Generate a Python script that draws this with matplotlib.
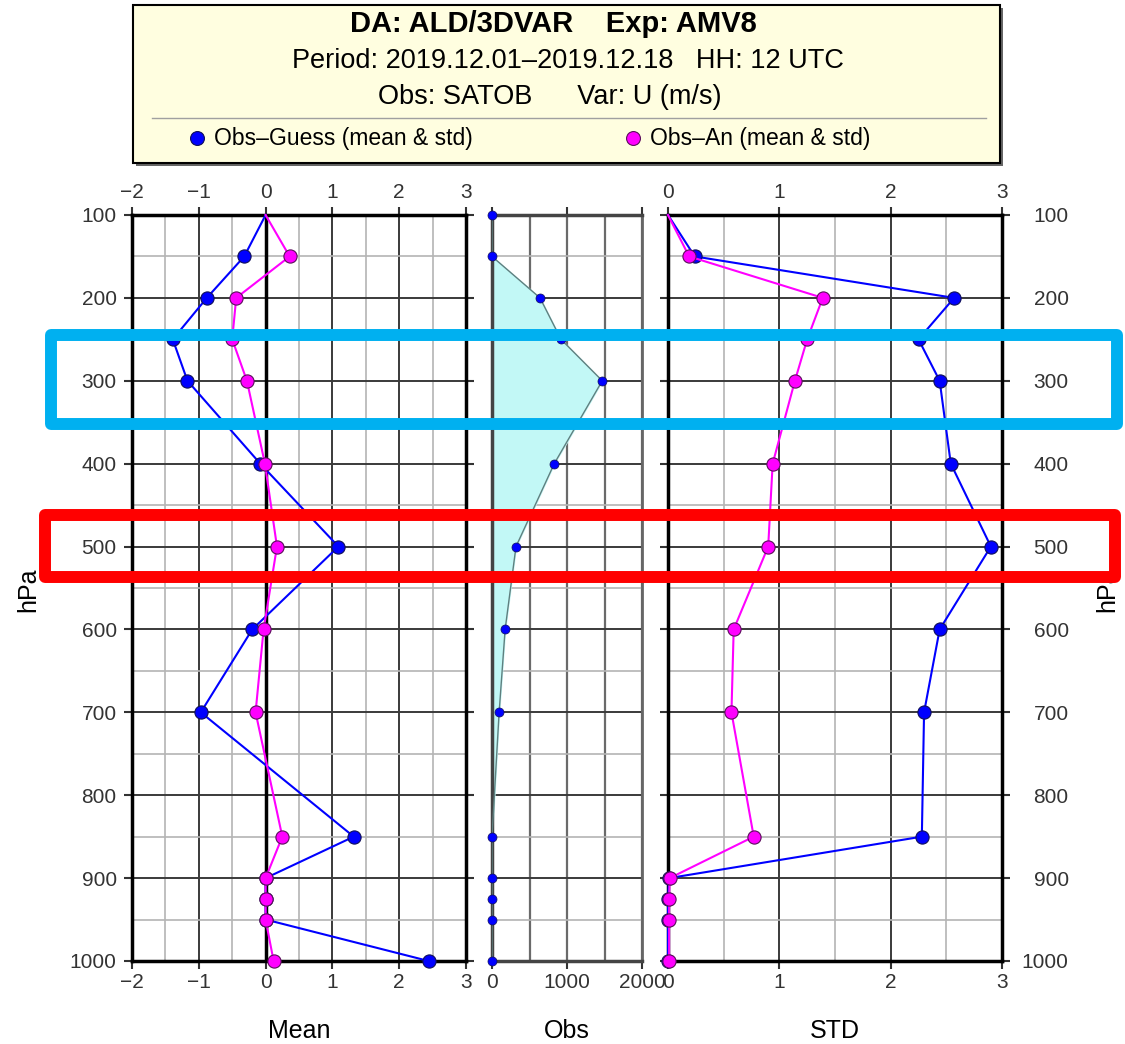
import matplotlib
matplotlib.use("Agg")
import matplotlib.pyplot as plt
from matplotlib.patches import Rectangle
from matplotlib.lines import Line2D

plt.rcParams["font.family"] = ["Liberation Sans", "DejaVu Sans"]

# pressure levels (hPa)
levels = [100, 150, 200, 250, 300, 400, 500, 600, 700, 850, 900, 925, 950, 1000]

# Obs-Guess / Obs-An mean (m/s)
mean_fg = [0.0, -0.32, -0.88, -1.39, -1.17, -0.08, 1.09, -0.20, -0.97, 1.32, 0.0, 0.0, 0.0, 2.44]
mean_an = [0.0, 0.36, -0.44, -0.50, -0.28, -0.01, 0.17, -0.03, -0.15, 0.25, 0.0, 0.0, 0.0, 0.12]

# number of observations
obs_count = [0, 0, 640, 920, 1470, 830, 320, 175, 95, 0, 0, 0, 0, 0]

# Obs-Guess / Obs-An std (m/s)
std_fg = [0.0, 0.24, 2.57, 2.25, 2.44, 2.54, 2.90, 2.44, 2.30, 2.28, 0.01, 0.0, 0.0, 0.0]
std_an = [0.0, 0.19, 1.39, 1.25, 1.14, 0.94, 0.90, 0.59, 0.57, 0.77, 0.015, 0.01, 0.01, 0.01]

W, H = 1125, 1044
fig = plt.figure(figsize=(W / 100, H / 100), dpi=100, facecolor="white")


def fx(px):
    return px / W


def fy(py):
    return 1 - py / H


def panel(x0, x1):
    return fig.add_axes([fx(x0), fy(961), fx(x1) - fx(x0), fy(215) - fy(961)])


ax_mean = panel(132, 466)
ax_obs = panel(492, 642)
ax_std = panel(668, 1002)

TICK_FS = 15
BLUE = "#0000ff"
MAG = "#ff00ff"


def style_grid(ax, major, minor):
    ax.set_ylim(1000, 100)
    ax.set_yticks(range(100, 1001, 100))
    ax.set_yticks(range(150, 1000, 100), minor=True)
    ax.set_xticks(major)
    ax.set_xticks(minor, minor=True)
    ax.grid(which="major", color="#3a3a3a", linewidth=1.4)
    ax.grid(which="minor", color="#b4b4b4", linewidth=1.2)
    ax.set_axisbelow(True)
    ax.tick_params(which="minor", length=0)
    ax.tick_params(which="major", length=6, width=1.5, color="#333333",
                   labelsize=TICK_FS, labelcolor="#333333", direction="out")
    for s in ax.spines.values():
        s.set_linewidth(2.5)
        s.set_color("black")


def profile(ax, fg, an, ms=9.5):
    ax.plot(fg, levels, color=BLUE, lw=1.5, zorder=3, clip_on=False)
    ax.plot(fg[1:], levels[1:], "o", color=BLUE, ms=ms, mec="#10105a", mew=0.8, zorder=4, clip_on=False)
    ax.plot(an, levels, color=MAG, lw=1.5, zorder=5, clip_on=False)
    ax.plot(an[1:], levels[1:], "o", color=MAG, ms=ms, mec="#5a105a", mew=0.8, zorder=6, clip_on=False)


# Mean panel
style_grid(ax_mean, [-2, -1, 0, 1, 2, 3], [-1.5, -0.5, 0.5, 1.5, 2.5])
ax_mean.set_xlim(-2, 3)
ax_mean.axvline(0, color="black", lw=2.5, zorder=2)
ax_mean.tick_params(axis="x", top=True, labeltop=True, pad=3)
ax_mean.tick_params(axis="y", left=True, right=True, labelleft=True, pad=5)
ax_mean.set_xticklabels(["\u22122", "\u22121", "0", "1", "2", "3"])
profile(ax_mean, mean_fg, mean_an)

# Obs count panel
style_grid(ax_obs, [0, 1000, 2000], [500, 1500])
ax_obs.set_xlim(0, 2000)
ax_obs.grid(which="minor", axis="x", color="#6a6a6a", linewidth=1.6)
ax_obs.grid(which="major", axis="x", color="#6a6a6a", linewidth=1.6)
ax_obs.fill_betweenx(levels, 0, obs_count, color="#c2f8f6", zorder=1.5)
ax_obs.plot(obs_count, levels, color="#5f7f7f", lw=1.0, zorder=3)
ax_obs.plot(obs_count, levels, "o", color=BLUE, ms=6.5, mec="#10105a", mew=0.5, zorder=4, clip_on=False)
ax_obs.tick_params(axis="x", top=True, labeltop=False, pad=3)
ax_obs.tick_params(axis="y", left=False, labelleft=False)
ax_obs.spines["left"].set_color("#444444")
ax_obs.spines["right"].set_color("#666666")
ax_obs.spines["right"].set_linewidth(2)
ax_obs.spines["top"].set_color("#444444")
ax_obs.spines["bottom"].set_color("#444444")

# STD panel
style_grid(ax_std, [0, 1, 2, 3], [0.5, 1.5, 2.5])
ax_std.set_xlim(0, 3)
ax_std.tick_params(axis="x", top=True, labeltop=True, pad=3)
ax_std.tick_params(axis="y", left=True, right=True, labelleft=False, labelright=True, pad=42)
for lab in ax_std.get_yticklabels():
    lab.set_horizontalalignment("right")
profile(ax_std, std_fg, std_an)

# axis titles
for x0, x1, name in [(132, 466, "Mean"), (492, 642, "Obs"), (668, 1002, "STD")]:
    fig.text(fx((x0 + x1) / 2), fy(1031), name, fontsize=18, ha="center", va="center")
fig.text(fx(28), fy(590), "hPa", rotation=90, fontsize=18, ha="center", va="center")
fig.text(fx(1107), fy(590), "hPa", rotation=90, fontsize=18, ha="center", va="center")

# header / legend box
fig.patches.append(Rectangle((fx(136), fy(166)), fx(1003) - fx(136), fy(8) - fy(166),
                             transform=fig.transFigure, facecolor="#666666", edgecolor="none", zorder=1))
fig.patches.append(Rectangle((fx(133), fy(163)), fx(1000) - fx(133), fy(5) - fy(163),
                             transform=fig.transFigure, facecolor="#fffee0", edgecolor="black", lw=1.5, zorder=2))
fig.text(fx(553), fy(24), "DA: ALD/3DVAR    Exp: AMV8", fontsize=21, fontweight="bold",
         ha="center", va="center", zorder=3)
fig.text(fx(568), fy(61), "Period: 2019.12.01\u20132019.12.18   HH: 12 UTC", fontsize=19.5,
         ha="center", va="center", zorder=3)
fig.text(fx(550), fy(97), "Obs: SATOB      Var: U (m/s)", fontsize=19.5, ha="center", va="center", zorder=3)
fig.lines.append(Line2D([fx(152), fx(986)], [fy(118), fy(118)], transform=fig.transFigure,
                        color="#a0a0a0", lw=1, zorder=3))
fig.lines.append(Line2D([fx(197)], [fy(138)], transform=fig.transFigure, marker="o", ms=10,
                        color=BLUE, mec="#10105a", mew=0.8, zorder=3))
fig.text(fx(214), fy(138), "Obs\u2013Guess (mean & std)", fontsize=16.5, ha="left", va="center", zorder=3)
fig.lines.append(Line2D([fx(633)], [fy(138)], transform=fig.transFigure, marker="o", ms=10,
                        color=MAG, mec="#5a105a", mew=0.8, zorder=3))
fig.text(fx(650), fy(138), "Obs\u2013An (mean & std)", fontsize=16.5, ha="left", va="center", zorder=3)

# highlight boxes
fig.patches.append(Rectangle((fx(51), fy(424)), fx(1117) - fx(51), fy(335) - fy(424),
                             transform=fig.transFigure, fill=False, edgecolor="#00b0f0",
                             lw=8.6, joinstyle="round", zorder=10))
fig.patches.append(Rectangle((fx(45), fy(577)), fx(1115) - fx(45), fy(515) - fy(577),
                             transform=fig.transFigure, fill=False, edgecolor="#ff0000",
                             lw=8.6, joinstyle="round", zorder=10))

fig.savefig("out.png", dpi=100, facecolor="white")
